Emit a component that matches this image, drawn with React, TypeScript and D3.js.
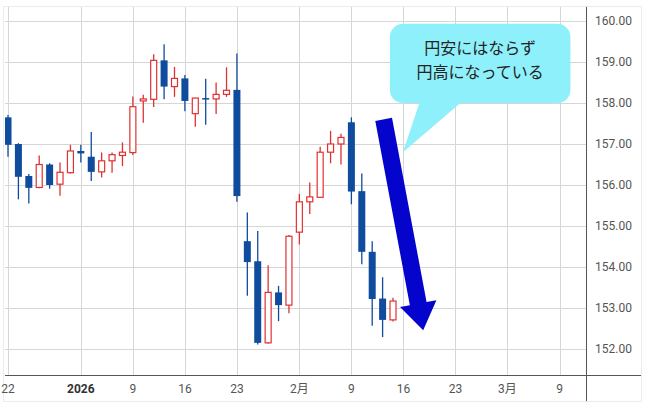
import React from "react";
import * as d3 from "d3";

// USD/JPY daily candles (Dec 22 - Feb 13)
const dates = [
  "12/22", "12/23", "12/24", "12/26", "12/29", "12/30", "12/31", "1/2",
  "1/5", "1/6", "1/7", "1/8", "1/9", "1/12", "1/13", "1/14", "1/15", "1/16",
  "1/19", "1/20", "1/21", "1/22", "1/23", "1/26", "1/27", "1/28", "1/29", "1/30",
  "2/2", "2/3", "2/4", "2/5", "2/6", "2/9", "2/10", "2/11", "2/12", "2/13",
];
const opens = [
  157.65, 157.0, 156.22, 155.94, 156.5, 156.02, 156.3, 156.83,
  156.69, 156.32, 156.59, 156.72, 156.79, 158.05, 158.09, 159.04, 158.4, 158.6,
  157.74, 158.12, 158.1, 158.21, 158.32, 154.63, 154.14, 152.15, 153.38, 153.07,
  154.85, 155.59, 155.7, 156.8, 157.0, 157.53, 155.85, 154.37, 153.23, 152.71,
];
const highs = [
  157.71, 157.02, 156.27, 156.72, 156.53, 156.55, 156.98, 156.98,
  157.29, 156.79, 156.79, 157.04, 158.16, 158.2, 159.19, 159.43, 158.88, 158.68,
  158.13, 158.59, 158.5, 158.87, 159.21, 155.33, 154.88, 154.04, 153.54, 154.78,
  155.78, 156.06, 156.93, 157.32, 157.25, 157.65, 156.28, 154.63, 153.75, 153.25,
];
const lows = [
  156.69, 155.65, 155.55, 155.92, 155.91, 155.74, 156.28, 156.55,
  156.1, 156.18, 156.3, 156.46, 156.73, 157.52, 157.9, 158.09, 158.15, 157.8,
  157.42, 157.47, 157.73, 158.15, 155.59, 153.3, 152.11, 152.13, 152.68, 152.87,
  154.55, 155.29, 155.68, 156.53, 156.5, 155.53, 154.07, 152.57, 152.29, 152.67,
];
const closes = [
  156.98, 156.2, 155.93, 156.5, 156.0, 156.31, 156.83, 156.77,
  156.32, 156.59, 156.74, 156.8, 157.91, 158.1, 159.04, 158.4, 158.6, 158.05,
  158.12, 158.09, 158.21, 158.31, 155.73, 154.12, 152.15, 153.38, 153.07, 154.75,
  155.59, 155.71, 156.8, 157.0, 157.16, 155.84, 154.37, 153.22, 152.71, 153.17,
];

// x-axis ticks by bar index (weekends skipped)
const tickIndex = [0, 7, 12, 17, 22, 28, 33, 38, 43, 48, 53];
const tickLabels = ["22", "2026", "9", "16", "23", "2月", "9", "16", "23", "3月", "9"];
const priceTicks = [152, 153, 154, 155, 156, 157, 158, 159, 160];

// annotation, in bar index / price units
const calloutLines = ["円安にはならず", "円高になっている"];
const calloutBox = { i0: 36.7, i1: 54.05, p0: 159.93, p1: 158.0 };
const calloutTail = { iA: 39.6, iB: 43.7, iTip: 37.95, pTip: 156.8 };
const arrowFrom = { i: 36.1, p: 157.6 };
const arrowTo = { i: 39.9, p: 152.46 };

const W = 647;
const H = 413;
const plot = { left: 5, right: 586, top: 7, bottom: 375 };

const UP = "#e03131";
const DOWN = "#0f4c9e";
const GRID = "#d6d6d6";
const AXIS = "#555";

export default function App() {
  const x = d3.scaleLinear().domain([0, 53]).range([8, 559.5]);
  const y = d3.scaleLinear().domain([152, 160]).range([349, 21]);
  const bw = 7;

  // arrow polygon
  const ax0 = x(arrowFrom.i), ay0 = y(arrowFrom.p);
  const ax1 = x(arrowTo.i), ay1 = y(arrowTo.p);
  const len = Math.hypot(ax1 - ax0, ay1 - ay0);
  const ux = (ax1 - ax0) / len, uy = (ay1 - ay0) / len;
  const nx = -uy, ny = ux;
  const shaftW = 8.5, headW = 18.5, headL = 27;
  const bx = ax1 - ux * headL, by = ay1 - uy * headL;
  const arrowPts = [
    [ax0 + nx * shaftW, ay0 + ny * shaftW],
    [bx + nx * shaftW, by + ny * shaftW],
    [bx + nx * headW, by + ny * headW],
    [ax1, ay1],
    [bx - nx * headW, by - ny * headW],
    [bx - nx * shaftW, by - ny * shaftW],
    [ax0 - nx * shaftW, ay0 - ny * shaftW],
  ];

  const cx0 = x(calloutBox.i0), cx1 = x(calloutBox.i1);
  const cy0 = y(calloutBox.p0), cy1 = y(calloutBox.p1);
  const tail = [
    [x(calloutTail.iA), cy1 - 2],
    [x(calloutTail.iB), cy1 - 2],
    [x(calloutTail.iTip), y(calloutTail.pTip)],
  ];

  return (
    <svg
      width={W}
      height={H}
      style={{ position: "absolute", left: 0, top: 0, background: "#fff" }}
      fontFamily="Roboto, 'Noto Sans', sans-serif"
    >
      <defs>
        <clipPath id="plotClip">
          <rect x={plot.left} y={plot.top} width={plot.right - plot.left} height={plot.bottom - plot.top} />
        </clipPath>
      </defs>

      <rect x={3.5} y={6.5} width={638} height={395} fill="#fff" stroke="#ececec" />

      {/* grid */}
      <g clipPath="url(#plotClip)">
        {priceTicks.map((p) => (
          <line key={"h" + p} x1={plot.left} x2={plot.right} y1={Math.round(y(p)) + 0.5} y2={Math.round(y(p)) + 0.5} stroke={GRID} />
        ))}
        {tickIndex.map((t) => (
          <line key={"v" + t} x1={Math.round(x(t)) + 0.5} x2={Math.round(x(t)) + 0.5} y1={plot.top} y2={plot.bottom} stroke={GRID} />
        ))}
      </g>

      {/* candles */}
      <g clipPath="url(#plotClip)">
        {dates.map((d, i) => {
          const o = opens[i], c = closes[i], hi = highs[i], lo = lows[i];
          const up = c >= o;
          const col = up ? UP : DOWN;
          const cx = x(i);
          const top = y(Math.max(o, c));
          const bot = y(Math.min(o, c));
          const h = Math.max(bot - top, 1.5);
          return (
            <g key={d}>
              <line x1={cx} x2={cx} y1={y(hi)} y2={y(lo)} stroke={col} strokeWidth={1.3} />
              {up ? (
                <rect x={cx - bw / 2 + 0.5} y={top} width={bw - 1} height={h} fill="#fff" stroke={col} strokeWidth={1.2} />
              ) : (
                <rect x={cx - bw / 2} y={top} width={bw} height={h} fill={col} />
              )}
            </g>
          );
        })}
      </g>

      {/* axes */}
      <line x1={plot.right + 0.5} x2={plot.right + 0.5} y1={plot.top} y2={401} stroke={AXIS} />
      <line x1={plot.left} x2={641} y1={plot.bottom + 0.5} y2={plot.bottom + 0.5} stroke={AXIS} />

      {priceTicks.map((p) => (
        <text key={"yl" + p} x={595} y={y(p)} dy="0.35em" fontSize={12} fill="#555">
          {p.toFixed(2)}
        </text>
      ))}
      {tickIndex.map((t, k) => (
        <text
          key={"xl" + k}
          x={x(t)}
          y={389}
          dy="0.35em"
          textAnchor="middle"
          fontSize={12}
          fill={tickLabels[k] === "2026" ? "#333" : "#555"}
          fontWeight={tickLabels[k] === "2026" ? 700 : 400}
          fontFamily="Roboto, 'Noto Sans CJK JP', sans-serif"
        >
          {tickLabels[k]}
        </text>
      ))}

      {/* callout */}
      <g>
        <rect x={cx0} y={cy0} width={cx1 - cx0} height={cy1 - cy0} rx={13} fill="#8ef0fa" />
        <polygon points={tail.map((p) => p.join(",")).join(" ")} fill="#8ef0fa" />
        {calloutLines.map((s, k) => (
          <text
            key={s}
            x={(cx0 + cx1) / 2}
            y={cy0 + 25 + k * 24}
            dy="0.35em"
            textAnchor="middle"
            fontSize={16}
            fill="#222"
            fontFamily="'Noto Sans CJK JP', sans-serif"
          >
            {s}
          </text>
        ))}
      </g>

      {/* arrow */}
      <polygon points={arrowPts.map((p) => p.join(",")).join(" ")} fill="#0404cc" />
    </svg>
  );
}
